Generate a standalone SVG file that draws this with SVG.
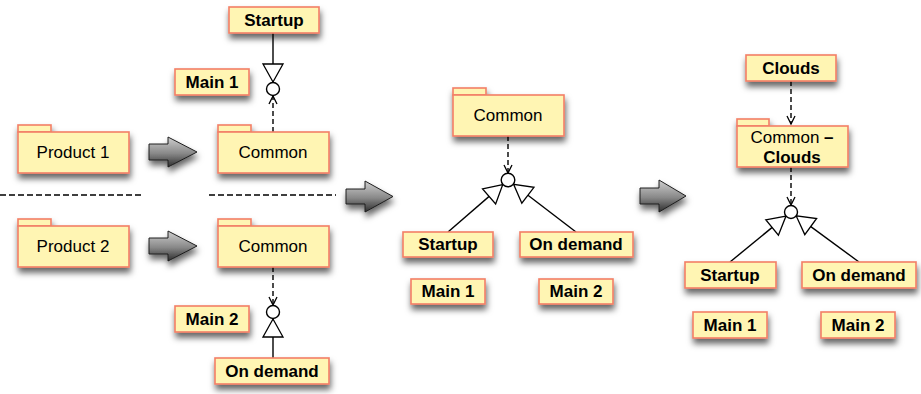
<svg xmlns="http://www.w3.org/2000/svg" width="921" height="394" viewBox="0 0 921 394">
  <defs>
    <filter id="shadow" x="-20%" y="-30%" width="140%" height="200%">
      <feDropShadow dx="1" dy="5" stdDeviation="3" flood-color="#000" flood-opacity="0.6"/>
    </filter>
    <linearGradient id="gray" x1="0" y1="0" x2="0" y2="1">
      <stop offset="0" stop-color="#cfcfcf"/>
      <stop offset="0.55" stop-color="#888"/>
      <stop offset="1" stop-color="#2e2e2e"/>
    </linearGradient>
    <marker id="tri" markerUnits="userSpaceOnUse" markerWidth="20" markerHeight="22" refX="18" refY="0" orient="auto" overflow="visible">
      <path d="M0,-10 L18,0 L0,10 Z" fill="#fff" stroke="#000" stroke-width="1.3" stroke-linejoin="miter"/>
    </marker>
    <marker id="vee" markerUnits="userSpaceOnUse" markerWidth="10" markerHeight="10" refX="0" refY="0" orient="auto" overflow="visible">
      <path d="M-8,-4 L0,0 L-8,4" fill="none" stroke="#000" stroke-width="1.3"/>
    </marker>
  </defs>
  <style>
    .box { fill: #fff5b3; stroke: #f37f66; stroke-width: 1.6; }
    .sh { filter: url(#shadow); }
    .lbl { font-family: "Liberation Sans", Arial, sans-serif; font-size: 17px; fill: #000; text-anchor: middle; }
    .b { font-weight: bold; }
    .solid { fill: none; stroke: #000; stroke-width: 1.4; }
    .dash { fill: none; stroke: #000; stroke-width: 1.4; stroke-dasharray: 5 3; }
    .sep { fill: none; stroke: #000; stroke-width: 1.6; stroke-dasharray: 6 3; }
    .lolli { fill: #fff; stroke: #000; stroke-width: 1.4; }
    .bigarrow { fill: url(#gray); stroke: #1e1e1e; stroke-width: 1; stroke-linejoin: round; }
  </style>

  <!-- separators between the two products -->
  <g id="separators">
    <line class="sep" x1="0" y1="195" x2="142" y2="195"/>
    <line class="sep" x1="209" y1="195" x2="336" y2="195"/>
  </g>

  <!-- transformation arrows -->
  <g id="steps" class="sh">
    <polygon class="bigarrow" points="149,144 168,144 168,137 197,152 168,167 168,160 149,160"/>
    <polygon class="bigarrow" points="149,238 168,238 168,231 197,246 168,261 168,254 149,254"/>
    <polygon class="bigarrow" points="346,189 365,189 365,181 393,196.5 365,212 365,204 346,204"/>
    <polygon class="bigarrow" points="640,188 659,188 659,180 686,196 659,212 659,204 640,204"/>
  </g>

  <!-- connectors -->
  <g id="connectors">
    <!-- left, product 1 -->
    <line class="solid" x1="273" y1="33" x2="273" y2="82" marker-end="url(#tri)"/>
    <line class="dash" x1="273" y1="132" x2="273" y2="96" marker-end="url(#vee)"/>
    <circle class="lolli" cx="273" cy="89" r="6.5"/>
    <!-- left, product 2 -->
    <line class="dash" x1="273" y1="267" x2="273" y2="305" marker-end="url(#vee)"/>
    <line class="solid" x1="273" y1="358" x2="273" y2="319" marker-end="url(#tri)"/>
    <circle class="lolli" cx="273" cy="312" r="6.5"/>
    <!-- middle -->
    <line class="dash" x1="508" y1="136" x2="508" y2="173" marker-end="url(#vee)"/>
    <line class="solid" x1="448" y1="232" x2="502.7" y2="184.6" marker-end="url(#tri)"/>
    <line class="solid" x1="576" y1="232" x2="513.6" y2="184.3" marker-end="url(#tri)"/>
    <circle class="lolli" cx="508" cy="180" r="6.8"/>
    <!-- right -->
    <line class="dash" x1="791" y1="81" x2="791" y2="124" marker-end="url(#vee)"/>
    <line class="dash" x1="791" y1="167" x2="791" y2="205" marker-end="url(#vee)"/>
    <line class="solid" x1="730" y1="262" x2="786" y2="216.1" marker-end="url(#tri)"/>
    <line class="solid" x1="859" y1="262" x2="796.2" y2="215.9" marker-end="url(#tri)"/>
    <circle class="lolli" cx="791" cy="212" r="6.5"/>
  </g>

  <!-- left column: products -->
  <g id="product1">
    <g class="sh"><rect class="box" x="18" y="125" width="33" height="7"/><rect class="box" x="18" y="132" width="111" height="41"/></g>
    <text class="lbl" x="73" y="158">Product 1</text>
  </g>
  <g id="product2">
    <g class="sh"><rect class="box" x="18" y="219" width="33" height="7"/><rect class="box" x="18" y="226" width="111" height="41"/></g>
    <text class="lbl" x="73" y="252">Product 2</text>
  </g>

  <!-- left column: common parts -->
  <g id="startup1">
    <rect class="box sh" x="229" y="7" width="90" height="26"/>
    <text class="lbl b" x="274" y="26">Startup</text>
  </g>
  <g id="main1a">
    <rect class="box sh" x="175" y="69" width="74" height="26"/>
    <text class="lbl b" x="212" y="88">Main 1</text>
  </g>
  <g id="common1">
    <g class="sh"><rect class="box" x="218" y="125" width="33" height="7"/><rect class="box" x="218" y="132" width="111" height="41"/></g>
    <text class="lbl" x="273" y="158">Common</text>
  </g>
  <g id="common2">
    <g class="sh"><rect class="box" x="218" y="219" width="33" height="7"/><rect class="box" x="218" y="226" width="111" height="41"/></g>
    <text class="lbl" x="273" y="252">Common</text>
  </g>
  <g id="main2a">
    <rect class="box sh" x="175" y="306" width="74" height="26"/>
    <text class="lbl b" x="212" y="325">Main 2</text>
  </g>
  <g id="ondemand1">
    <rect class="box sh" x="215" y="358" width="114" height="26"/>
    <text class="lbl b" x="272" y="377">On demand</text>
  </g>

  <!-- middle stage -->
  <g id="common3">
    <g class="sh"><rect class="box" x="453" y="88" width="33" height="7"/><rect class="box" x="453" y="95" width="111" height="41"/></g>
    <text class="lbl" x="508" y="121">Common</text>
  </g>
  <g id="startup2">
    <rect class="box sh" x="403" y="232" width="90" height="25"/>
    <text class="lbl b" x="448" y="250">Startup</text>
  </g>
  <g id="ondemand2">
    <rect class="box sh" x="520" y="232" width="113" height="25"/>
    <text class="lbl b" x="576" y="250">On demand</text>
  </g>
  <g id="main1b">
    <rect class="box sh" x="411" y="279" width="74" height="25"/>
    <text class="lbl b" x="448" y="297">Main 1</text>
  </g>
  <g id="main2b">
    <rect class="box sh" x="539" y="279" width="74" height="25"/>
    <text class="lbl b" x="576" y="297">Main 2</text>
  </g>

  <!-- right stage -->
  <g id="clouds">
    <rect class="box sh" x="746" y="55" width="90" height="26"/>
    <text class="lbl b" x="791" y="74">Clouds</text>
  </g>
  <g id="commonclouds">
    <g class="sh"><rect class="box" x="737" y="119" width="32" height="7"/><rect class="box" x="737" y="126" width="111" height="41"/></g>
    <text class="lbl" x="792" y="143">Common <tspan class="b">–</tspan></text>
    <text class="lbl b" x="792" y="163">Clouds</text>
  </g>
  <g id="startup3">
    <rect class="box sh" x="685" y="262" width="91" height="26"/>
    <text class="lbl b" x="730" y="281">Startup</text>
  </g>
  <g id="ondemand3">
    <rect class="box sh" x="802" y="262" width="114" height="26"/>
    <text class="lbl b" x="859" y="281">On demand</text>
  </g>
  <g id="main1c">
    <rect class="box sh" x="693" y="312" width="74" height="26"/>
    <text class="lbl b" x="730" y="331">Main 1</text>
  </g>
  <g id="main2c">
    <rect class="box sh" x="821" y="312" width="74" height="26"/>
    <text class="lbl b" x="858" y="331">Main 2</text>
  </g>
</svg>
